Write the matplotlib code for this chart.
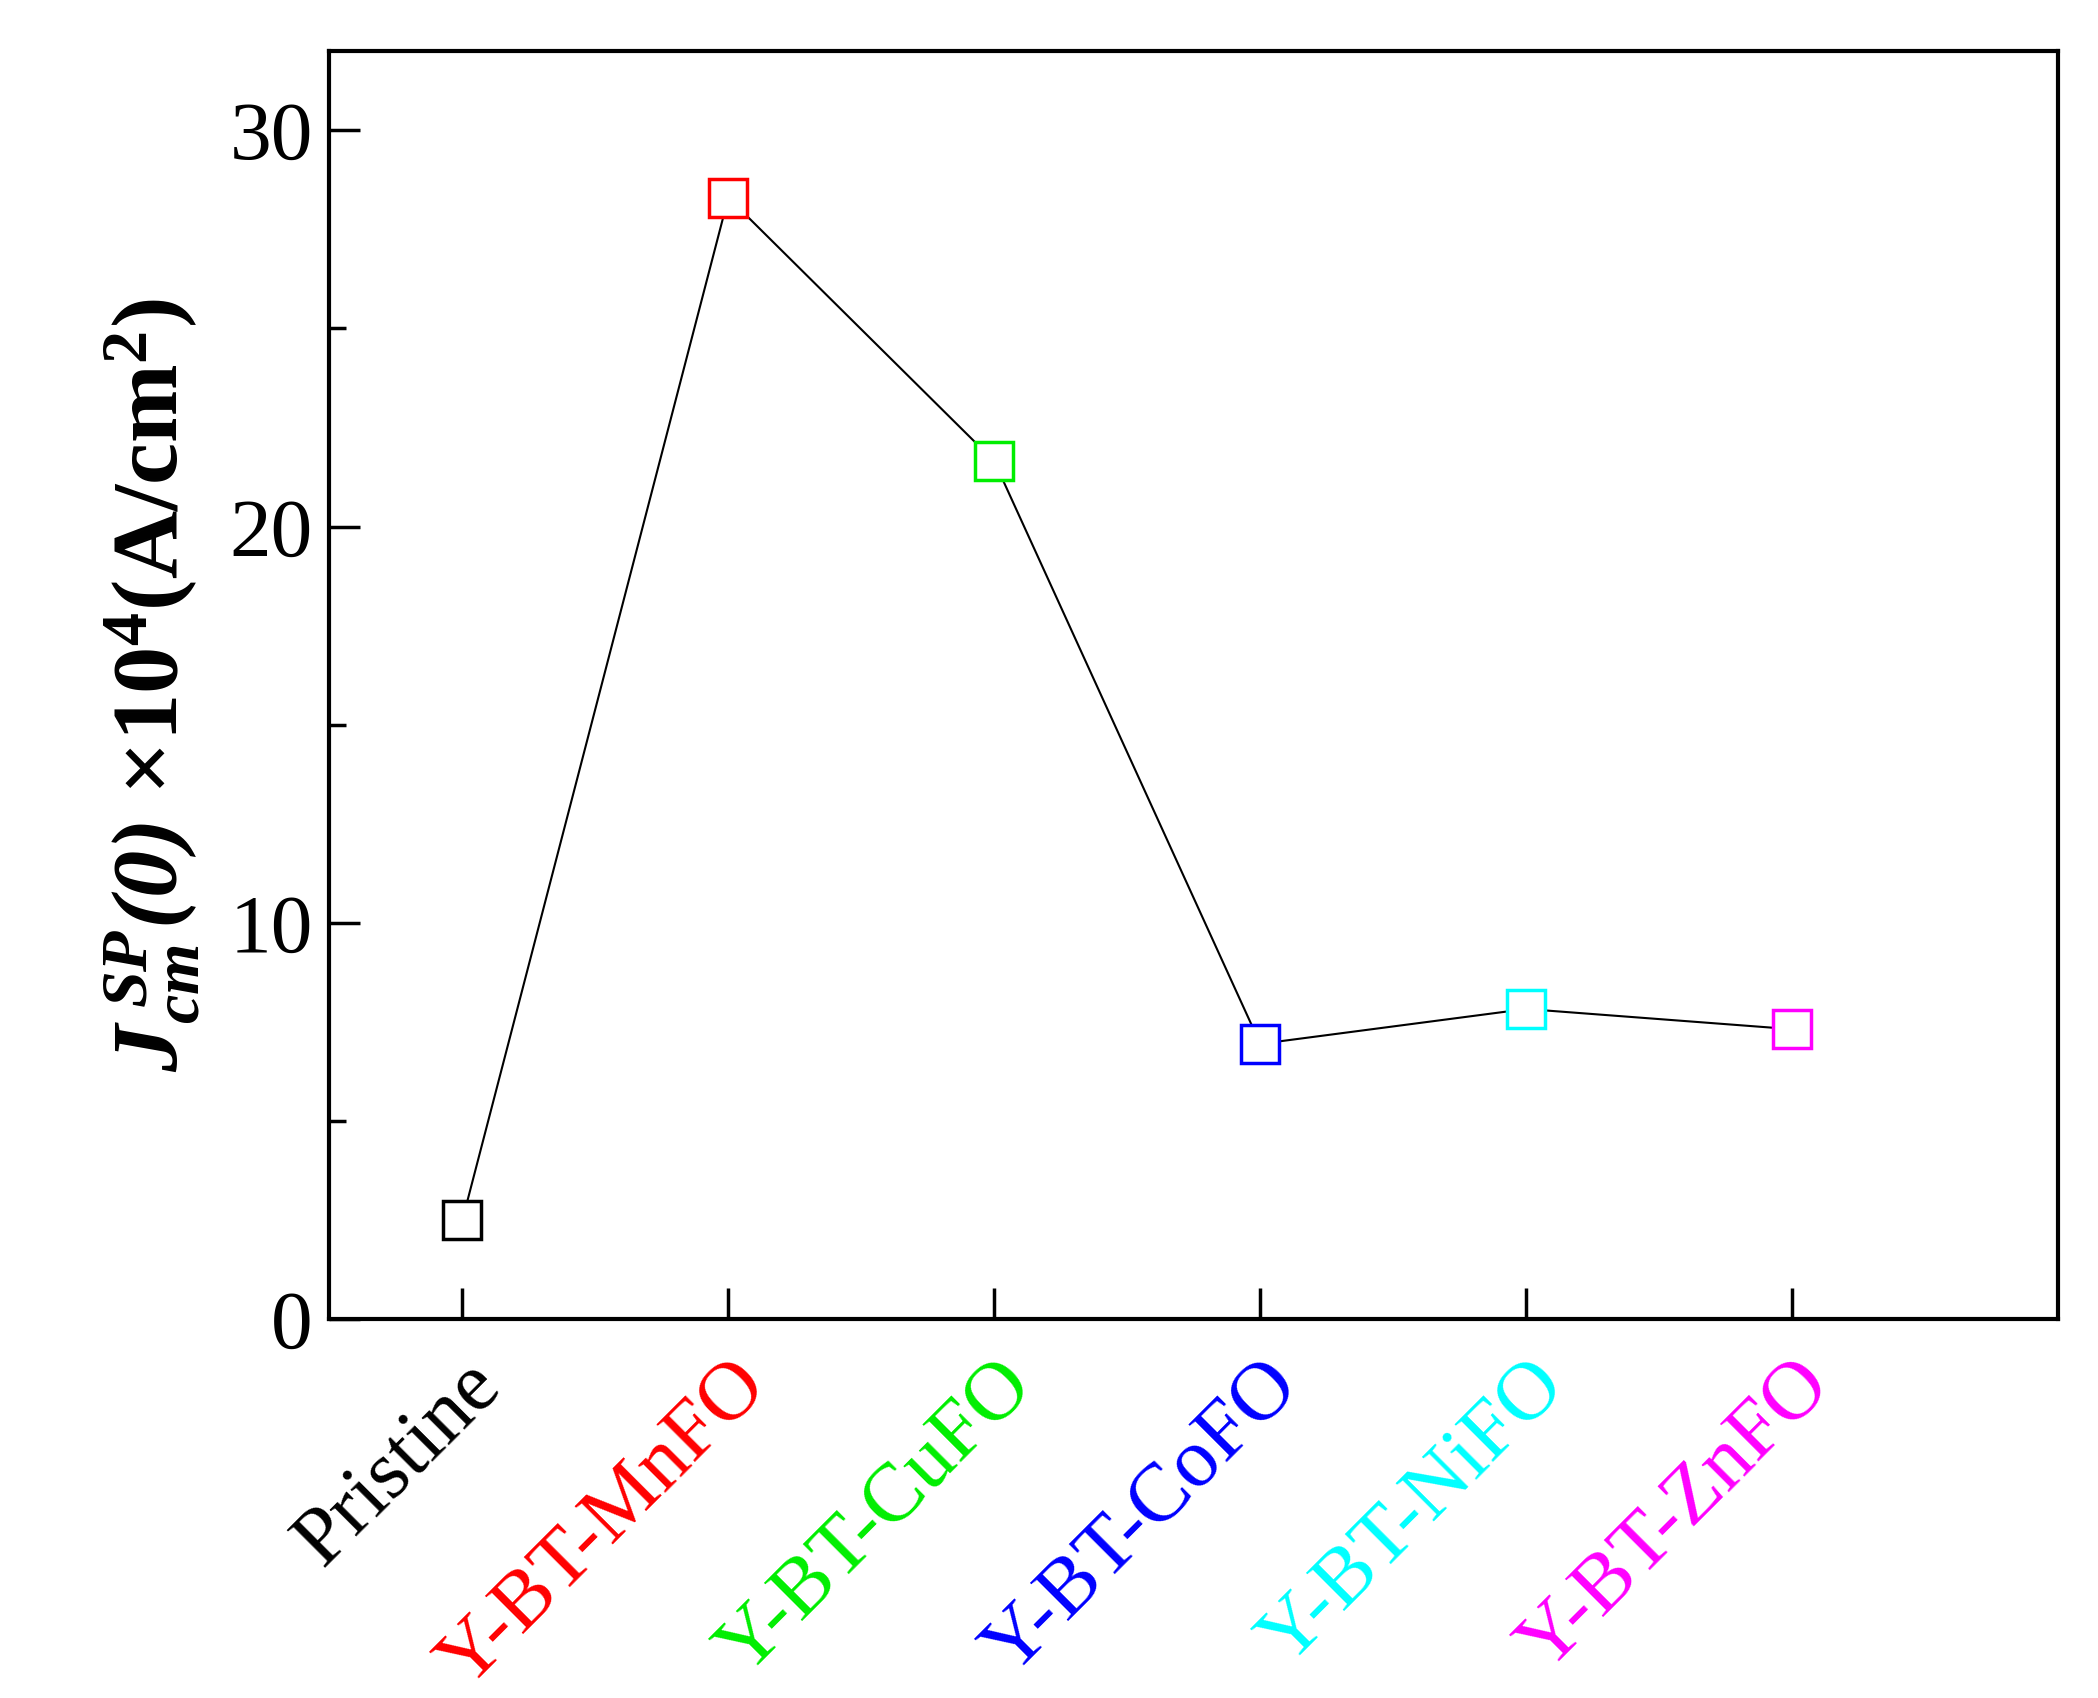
import matplotlib
matplotlib.use("Agg")
import matplotlib.pyplot as plt
from matplotlib.ticker import MultipleLocator

categories = ["Pristine", "Y-BT-MnFO", "Y-BT-CuFO", "Y-BT-CoFO", "Y-BT-NiFO", "Y-BT-ZnFO"]
values = [2.5, 28.3, 21.65, 6.95, 7.83, 7.32]
colors = ["black", "red", "#00ee00", "blue", "cyan", "magenta"]

plt.rcParams['font.family'] = ['Liberation Serif', 'DejaVu Serif']
plt.rcParams['mathtext.fontset'] = 'custom'
plt.rcParams['mathtext.rm'] = 'Liberation Serif'
plt.rcParams['mathtext.it'] = 'Liberation Serif:italic'
plt.rcParams['mathtext.bf'] = 'Liberation Serif:bold'
plt.rcParams['mathtext.bfit'] = 'Liberation Serif:italic:bold'

fig = plt.figure(figsize=(20.98, 16.98), dpi=100)
ax = fig.add_axes([0.157, 0.223, 0.824, 0.747])
x = list(range(1, len(categories) + 1))
ax.plot(x, values, color='black', lw=1.5, zorder=1)
for xi, v, c in zip(x, values, colors):
    ax.plot([xi], [v], marker='s', ms=28, mfc='white', mec=c, mew=2.5, zorder=3, ls='none')
ax.set_xlim(0.5, 7.0)
ax.set_ylim(0, 32)
ax.yaxis.set_major_locator(MultipleLocator(10))
ax.yaxis.set_minor_locator(MultipleLocator(5))
ax.set_xticks(x)
ax.set_xticklabels(categories, rotation=45, ha='right', rotation_mode='anchor', fontsize=55)
for lbl, c in zip(ax.get_xticklabels(), colors):
    lbl.set_color(c)
ax.tick_params(axis='both', direction='in', width=2.5, length=22, labelsize=60, pad=12)
ax.tick_params(axis='y', which='minor', direction='in', width=2.5, length=12)
ax.tick_params(axis='x', pad=20)
ax.tick_params(top=False, right=False)
for s in ax.spines.values():
    s.set_linewidth(3)
ax.set_ylabel(r"$\mathbfit{J}_{\mathbfit{cm}}^{\ \mathbfit{SP}}\mathbfit{(0)}$ $\mathbf{\times 10^{4}(A/cm^{2})}$",
              fontsize=68, labelpad=20)
fig.savefig("out.png", dpi=100)
